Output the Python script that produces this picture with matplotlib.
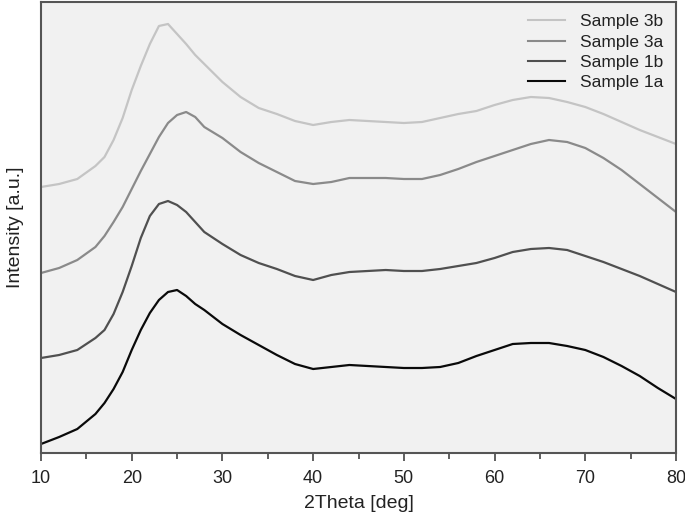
import matplotlib
matplotlib.use("Agg")
import matplotlib.pyplot as plt
from matplotlib.ticker import MultipleLocator

plt.rcParams['font.family'] = ['Liberation Sans', 'DejaVu Sans']

two_theta = [10, 12, 14, 16, 17, 18, 19, 20, 21, 22, 23, 24, 25, 26, 27, 28,
             30, 32, 34, 36, 38, 40, 42, 44, 46, 48, 50, 52, 54, 56, 58, 60,
             62, 64, 66, 68, 70, 72, 74, 76, 78, 80]

sample_3b = [266, 269, 274, 287, 296, 313, 335, 363, 387, 409, 427, 429, 419, 409, 398, 389,
             371, 356, 345, 339, 332, 328, 331, 333, 332, 331, 330, 331, 335, 339, 342, 348,
             353, 356, 355, 351, 346, 339, 331, 323, 316, 309]
sample_3a = [180, 185, 193, 206, 217, 231, 246, 264, 282, 299, 316, 330, 338, 341, 336, 326,
             315, 301, 290, 281, 272, 269, 271, 275, 275, 275, 274, 274, 278, 284, 291, 297,
             303, 309, 313, 311, 305, 295, 283, 269, 255, 241]
sample_1b = [95, 98, 103, 115, 123, 139, 161, 187, 215, 237, 249, 252, 248, 241, 231, 221,
             209, 198, 190, 184, 177, 173, 178, 181, 182, 183, 182, 182, 184, 187, 190, 195,
             201, 204, 205, 203, 197, 191, 184, 177, 169, 161]
sample_1a = [9, 16, 24, 39, 50, 64, 81, 103, 123, 140, 153, 161, 163, 157, 149, 143,
             129, 118, 108, 98, 89, 84, 86, 88, 87, 86, 85, 85, 86, 90, 97, 103,
             109, 110, 110, 107, 103, 96, 87, 77, 65, 54]

labels = ["Sample 3b", "Sample 3a", "Sample 1b", "Sample 1a"]
colors = ["#c4c4c4", "#8a8a8a", "#505050", "#0a0a0a"]
series = [sample_3b, sample_3a, sample_1b, sample_1a]

fig = plt.figure(figsize=(6.85, 5.16), dpi=100)
ax = fig.add_axes([41/685, 1-453/516, (676-41)/685, (453-2)/516])
ax.set_facecolor("#f1f1f1")

for s, c, l in zip(series, colors, labels):
    ax.plot(two_theta, s, color=c, lw=1.6, label=l)

ax.set_xlim(10, 80)
ax.set_ylim(0, 451)
ax.xaxis.set_major_locator(MultipleLocator(10))
ax.xaxis.set_minor_locator(MultipleLocator(5))
ax.set_yticks([])
ax.tick_params(axis='x', which='major', direction='out', length=6, width=1.2,
               color='#444444', labelsize=13, labelcolor='#222222', pad=6)
ax.tick_params(axis='x', which='minor', direction='out', length=4, width=1.2, color='#444444')
for sp in ax.spines.values():
    sp.set_color('#555555')
    sp.set_linewidth(1.5)

ax.set_xlabel("2Theta [deg]", fontsize=14, color='#222222', labelpad=6)
ax.set_ylabel("Intensity [a.u.]", fontsize=14, color='#222222', labelpad=12)

leg = ax.legend(loc='upper right', frameon=False, fontsize=12.5, handlelength=2.1,
                handletextpad=0.9, labelspacing=0.3, borderaxespad=0.3)
for t in leg.get_texts():
    t.set_color('#222222')
for h in leg.get_lines():
    h.set_linewidth(1.5)

fig.savefig("out.png", dpi=100, facecolor='white')
